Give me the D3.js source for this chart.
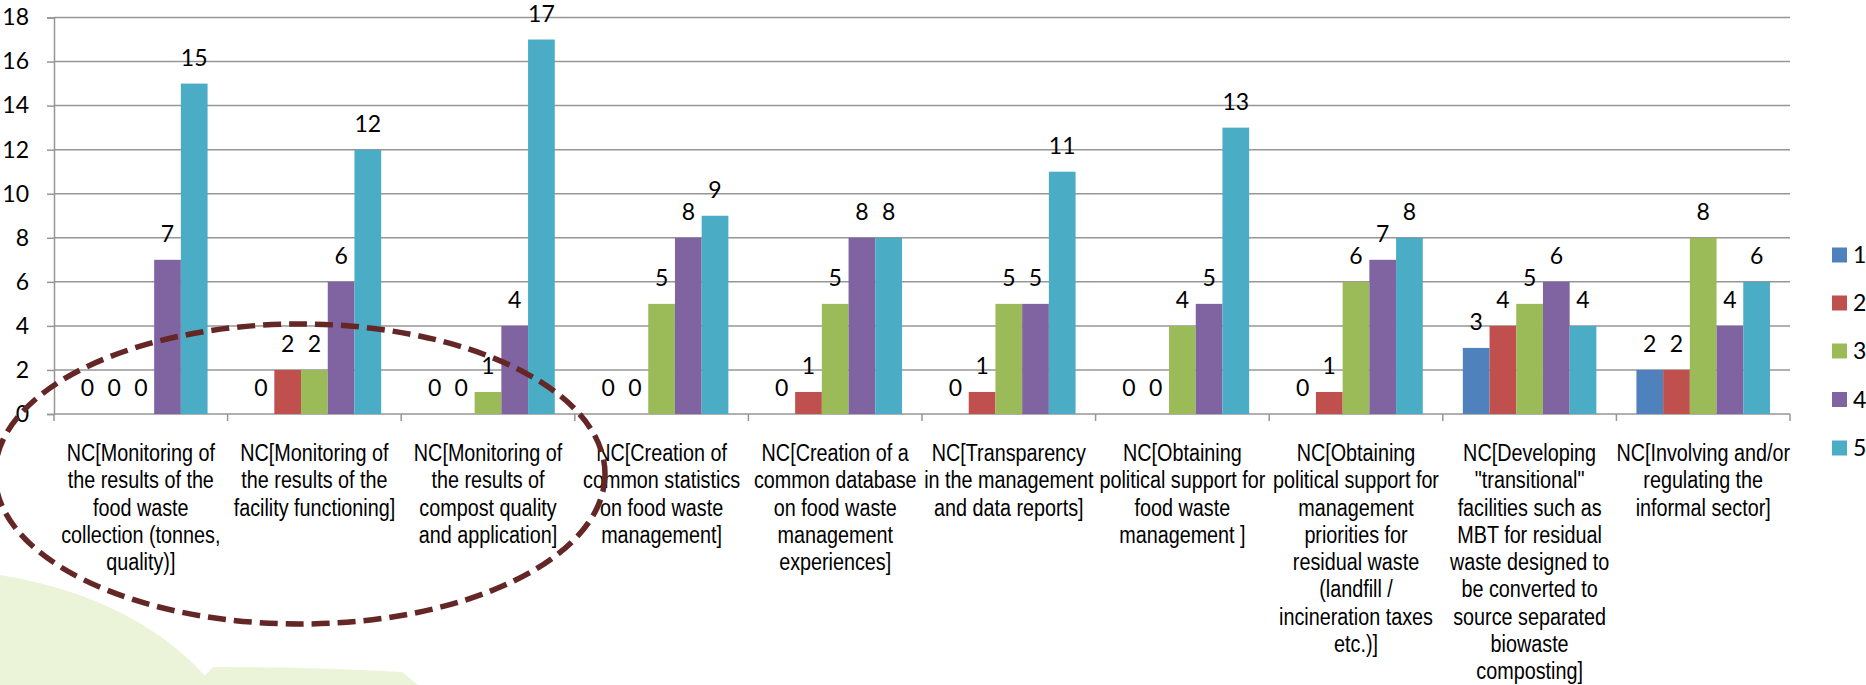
<!DOCTYPE html>
<html>
<head>
<meta charset="utf-8">
<script src="https://cdn.jsdelivr.net/npm/d3@7"></script>
<style>
  body { margin: 0; background: #fff; }
  svg { display: block; }
</style>
</head>
<body>
<div class="chart"></div>
<script>
// --- Data ---
const categoryLines = [
  ["NC[Monitoring of", "the results of the", "food waste", "collection (tonnes,", "quality)]"],
  ["NC[Monitoring of", "the results of the", "facility functioning]"],
  ["NC[Monitoring of", "the results of", "compost quality", "and application]"],
  ["NC[Creation of", "common statistics", "on food waste", "management]"],
  ["NC[Creation of a", "common database", "on food waste", "management", "experiences]"],
  ["NC[Transparency", "in the management", "and data reports]"],
  ["NC[Obtaining", "political support for", "food waste", "management ]"],
  ["NC[Obtaining", "political support for", "management", "priorities for", "residual waste", "(landfill /", "incineration taxes", "etc.)]"],
  ["NC[Developing", "\"transitional\"", "facilities such as", "MBT for residual", "waste designed to", "be converted to", "source separated", "biowaste", "composting]"],
  ["NC[Involving and/or", "regulating the", "informal sector]"]
];
const seriesNames = ["1", "2", "3", "4", "5"];
const values1 = [0, 0, 0, 0, 0, 0, 0, 0, 3, 2];
const values2 = [0, 2, 0, 0, 1, 1, 0, 1, 4, 2];
const values3 = [0, 2, 1, 5, 5, 5, 4, 6, 5, 8];
const values4 = [7, 6, 4, 8, 8, 5, 5, 7, 6, 4];
const values5 = [15, 12, 17, 9, 8, 11, 13, 8, 4, 6];
const yTicks = [0, 2, 4, 6, 8, 10, 12, 14, 16, 18];

const seriesValues = [values1, values2, values3, values4, values5];
const colors = ["#4F81BD", "#C0504D", "#9BBB59", "#8064A2", "#4BACC6"];

// --- Sizes ---
const W = 1866, H = 685;
const plotL = 54, plotR = 1790, plotT = 17.5, plotB = 414;
const numFont = "Lato, 'Open Sans', sans-serif";
const catFont = "'Liberation Sans', Arial, sans-serif";

const svg = d3.select(".chart").append("svg")
  .attr("width", W).attr("height", H);

// faint green leaves in the background (bottom left)
svg.append("path")
  .attr("d", "M0,575 Q140,598 213,685 L0,685 Z")
  .attr("fill", "#ebf4d8");
svg.append("path")
  .attr("d", "M196,685 L213,667 Q310,667 402,672 L418,685 Z")
  .attr("fill", "#ebf4d8");

// --- Scales ---
const y = d3.scaleLinear().domain([0, 18]).range([plotB, plotT]);
const x0 = d3.scaleBand().domain(d3.range(categoryLines.length)).range([plotL, plotR]);
const bw = x0.bandwidth();
const x1 = d3.scaleBand().domain(seriesNames).range([bw * 0.75 / 6.5, bw * 5.75 / 6.5]);

// --- Gridlines ---
svg.append("g")
  .selectAll("line")
  .data(yTicks.filter(d => d > 0))
  .join("line")
  .attr("x1", plotL).attr("x2", plotR)
  .attr("y1", d => y(d)).attr("y2", d => y(d))
  .attr("stroke", "#969696")
  .attr("stroke-width", 1.5);

// --- Y axis ---
const yAxis = svg.append("g")
  .attr("transform", `translate(${plotL},0)`)
  .call(d3.axisLeft(y).tickValues(yTicks).tickSize(7).tickPadding(18));
yAxis.select(".domain").attr("stroke", "#969696").attr("stroke-width", 1.5);
yAxis.selectAll(".tick line").attr("stroke", "#969696").attr("stroke-width", 1.5);
yAxis.selectAll(".tick text")
  .attr("fill", "#000")
  .style("font-family", numFont)
  .style("font-size", "23px");

// --- X axis (line + boundary ticks) ---
const xg = svg.append("g");
xg.append("line")
  .attr("x1", plotL).attr("x2", plotR)
  .attr("y1", plotB).attr("y2", plotB)
  .attr("stroke", "#969696").attr("stroke-width", 1.5);
xg.selectAll("line.tk")
  .data(d3.range(categoryLines.length + 1))
  .join("line")
  .attr("class", "tk")
  .attr("x1", d => d < categoryLines.length ? x0(d) : plotR)
  .attr("x2", d => d < categoryLines.length ? x0(d) : plotR)
  .attr("y1", plotB).attr("y2", plotB + 7)
  .attr("stroke", "#969696").attr("stroke-width", 1.5);

// --- Bars ---
const groups = svg.append("g")
  .selectAll("g")
  .data(categoryLines.map((c, i) => i))
  .join("g")
  .attr("transform", i => `translate(${x0(i)},0)`);

const cells = groups.selectAll("g")
  .data(i => seriesNames.map((s, k) => ({ s, k, v: seriesValues[k][i] })))
  .join("g");

cells.append("rect")
  .attr("x", d => x1(d.s))
  .attr("y", d => y(d.v))
  .attr("width", x1.bandwidth())
  .attr("height", d => plotB - y(d.v))
  .attr("fill", d => colors[d.k]);

cells.append("text")
  .text(d => d.v)
  .attr("x", d => x1(d.s) + x1.bandwidth() / 2)
  .attr("y", d => y(d.v) - 18)
  .attr("text-anchor", "middle")
  .style("font-family", numFont)
  .style("font-size", "23px");

// --- Category labels (narrow look: squeeze horizontally) ---
const lineH = 27.3;
svg.append("g")
  .selectAll("text")
  .data(categoryLines)
  .join("text")
  .attr("transform", (d, i) => `translate(${x0(i) + bw / 2},0) scale(0.86,1)`)
  .attr("text-anchor", "middle")
  .style("font-family", catFont)
  .style("font-size", "23px")
  .attr("fill", "#000")
  .each(function (lines) {
    d3.select(this).selectAll("tspan")
      .data(lines)
      .join("tspan")
      .attr("x", 0)
      .attr("y", (d, j) => 461 + j * lineH)
      .text(d => d);
  });

// --- Legend ---
const legendY = [255, 303, 351, 399.5, 448];
const legend = svg.append("g")
  .selectAll("g")
  .data(seriesNames)
  .join("g")
  .attr("transform", (d, k) => `translate(1832,${legendY[k]})`);
legend.append("rect")
  .attr("x", 0).attr("y", -7.5)
  .attr("width", 15).attr("height", 15)
  .attr("fill", (d, k) => colors[k]);
legend.append("text")
  .text(d => d)
  .attr("x", 21).attr("y", 0).attr("dy", "0.36em")
  .style("font-family", numFont)
  .style("font-size", "23px");

// --- Dashed highlight ellipse ---
svg.append("ellipse")
  .attr("cx", 300).attr("cy", 474)
  .attr("rx", 305).attr("ry", 150)
  .attr("fill", "none")
  .attr("stroke", "#652626")
  .attr("stroke-width", 5.5)
  .attr("stroke-dasharray", "18 8");
</script>
</body>
</html>
